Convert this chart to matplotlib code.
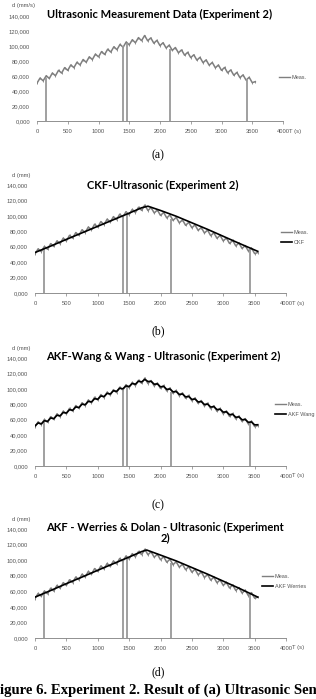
import numpy as np
import matplotlib
matplotlib.use("Agg")
import matplotlib.pyplot as plt
from matplotlib.lines import Line2D

# ---- data ----
t_meas = [0, 50, 100, 150, 200, 250, 300, 350, 400, 450, 500, 550, 600, 650, 700,
          750, 800, 850, 900, 950, 1000, 1050, 1100, 1150, 1200, 1250, 1300, 1350,
          1400, 1450, 1500, 1550, 1600, 1650, 1700, 1750, 1800, 1850, 1900, 1950,
          2000, 2050, 2100, 2150, 2200, 2250, 2300, 2350, 2400, 2450, 2500, 2550,
          2600, 2650, 2700, 2750, 2800, 2850, 2900, 2950, 3000, 3050, 3100, 3150,
          3200, 3250, 3300, 3350, 3400, 3450, 3500, 3550]
d_meas = [50500, 57300, 53600, 60400, 56700, 64000, 60300, 67600, 63900, 71200,
          67500, 74800, 71100, 78400, 74700, 82000, 78300, 85600, 81900, 89200,
          85500, 92600, 88700, 95800, 91900, 99000, 95100, 102200, 98300, 105400,
          101500, 108400, 104300, 111200, 107100, 114000, 106900, 110800, 103700,
          107600, 100500, 104400, 97300, 101200, 94100, 98000, 90900, 94800, 87700,
          91600, 84500, 88300, 81100, 84900, 77700, 81500, 74300, 78100, 70900,
          74700, 67500, 71400, 64200, 68100, 61000, 64800, 57700, 61500, 54400,
          58300, 51100, 52500]
d_wang = [52000, 55800, 54600, 58700, 57800, 62300, 61400, 65800, 65000, 69400,
          68600, 73000, 72200, 76600, 75800, 80200, 79400, 83800, 83000, 87300,
          86500, 90800, 90000, 94200, 93300, 97600, 96700, 100900, 100000, 103800,
          103000, 107000, 106000, 110000, 109000, 112300, 109500, 109800, 106000,
          106500, 102600, 103200, 99300, 99900, 96100, 96600, 92800, 93400, 89600,
          90100, 86300, 86900, 83000, 83600, 79700, 80300, 76400, 77000, 73100,
          73600, 69800, 70300, 66500, 67000, 63200, 63700, 59900, 60400, 56600,
          57100, 53300, 53500]

# spikes to zero in the measurement
spike_t = [150, 1400, 1460, 2170, 3420]
spike_top = [57000, 100000, 104500, 96500, 56500]

t_ckf = [0, 250, 500, 750, 1000, 1250, 1500, 1700, 1800, 2000, 2250, 2500, 2750,
         3000, 3250, 3550]
d_ckf = [52500, 60800, 69500, 78000, 86500, 95000, 103500, 110500, 112500, 107000,
         99500, 91000, 82500, 73500, 64500, 54000]

t_werr = [0, 250, 500, 750, 1000, 1250, 1500, 1700, 1780, 2000, 2250, 2500, 2750,
          3000, 3250, 3550]
d_werr = [52500, 61000, 69800, 78300, 87000, 95500, 104000, 111000, 113000, 106500,
          99000, 90500, 82000, 73000, 64000, 52500]

titles = [["Ultrasonic Measurement Data (Experiment 2)"],
          ["CKF-Ultrasonic (Experiment 2)"],
          ["AKF-Wang & Wang - Ultrasonic (Experiment 2)"],
          ["AKF - Werries & Dolan - Ultrasonic (Experiment", "2)"]]
filter_names = [None, "CKF", "AKF Wang", "AKF Werries"]
ylabels = ["d (mm/s)", "d (mm)", "d (mm)", "d (mm)"]
panel_tags = ["(a)", "(b)", "(c)", "(d)"]
yticks = [0, 20000, 40000, 60000, 80000, 100000, 120000, 140000]
xticks = [0, 500, 1000, 1500, 2000, 2500, 3000, 3500, 4000]

GREY = "#7f7f7f"
TXT = "#555555"
W, H = 316, 699

fig = plt.figure(figsize=(W / 100, H / 100), dpi=100)

# pixel layout: (left, right, top, bottom) of plot area
boxes = [(37, 283, 16, 121), (35, 286, 185, 293), (35, 286, 358, 466), (35, 286, 529, 638)]
title_y = [[14], [185], [356], [527, 538]]
title_x = [160, 163, 163, 165]
leg_y = [80, 235, 407, 579]
leg_x = [279, 281, 275, 262]
tag_y = [155, 331, 505, 672]
filt_series = [None, (t_ckf, d_ckf), (t_meas, d_wang), (t_werr, d_werr)]

for i in range(4):
    l, r, t, b = boxes[i]
    ax = fig.add_axes([l / W, 1 - b / H, (r - l) / W, (b - t) / H])
    ax.set_xlim(0, 4000)
    ax.set_ylim(0, 140000)
    ax.plot(t_meas, d_meas, color=GREY, lw=1.1, marker="|", ms=1.8, mew=0.6)
    ax.vlines(spike_t, 0, spike_top, color="#999999", lw=1.3)
    handles = [Line2D([], [], color=GREY, lw=1.0)]
    labels = ["Meas."]
    if filt_series[i] is not None:
        ft, fd = filt_series[i]
        ax.plot(ft, fd, color="black", lw=1.2)
        handles.append(Line2D([], [], color="black", lw=1.2))
        labels.append(filter_names[i])
    ax.set_yticks(yticks)
    ax.set_yticklabels([f"{v / 1000:.3f}".replace(".", ",") for v in yticks])
    ax.set_xticks(xticks)
    ax.set_xticklabels([str(v) for v in xticks])
    for s in ["top", "right", "left"]:
        ax.spines[s].set_visible(False)
    ax.spines["bottom"].set_color(GREY)
    ax.spines["bottom"].set_linewidth(0.6)
    ax.tick_params(axis="y", length=0, pad=5, labelsize=4.2, labelcolor=TXT)
    ax.tick_params(axis="x", length=2, width=0.5, color=GREY, pad=4,
                   labelsize=4.2, labelcolor=TXT)
    for tl in ax.get_xticklabels() + ax.get_yticklabels():
        tl.set_family("Liberation Sans")

    fig.text(12 / W, 1 - (t - 10) / H, ylabels[i], fontsize=4.2, color=TXT,
             family="Liberation Sans", va="center")
    fig.text((r + 6) / W, 1 - (b + 10) / H, "T (s)", fontsize=4.2, color=TXT,
             family="Liberation Sans", va="center")
    for k, line in enumerate(titles[i]):
        fig.text(title_x[i] / W, 1 - title_y[i][k] / H, line, fontsize=8,
                 fontweight="bold", family="Lato", ha="center", va="center")
    ax.legend(handles, labels, loc="upper left",
              bbox_to_anchor=(leg_x[i] / W, 1 - (leg_y[i] - 5) / H),
              bbox_transform=fig.transFigure, frameon=False,
              prop={"family": "Liberation Sans", "size": 4.0},
              labelcolor=TXT, handlelength=2.0, handletextpad=0.3,
              labelspacing=0.9, borderaxespad=0, borderpad=0)
    fig.text(158 / W, 1 - tag_y[i] / H, panel_tags[i], fontsize=8.5,
             family="Liberation Serif", ha="center", va="center")

fig.text(-9 / W, 1 - 690 / H, "Figure 6. Experiment 2. Result of (a) Ultrasonic Sensor",
         fontsize=10.6, fontweight="bold", family="Liberation Serif",
         ha="left", va="center")

fig.savefig("out.png", dpi=100)
